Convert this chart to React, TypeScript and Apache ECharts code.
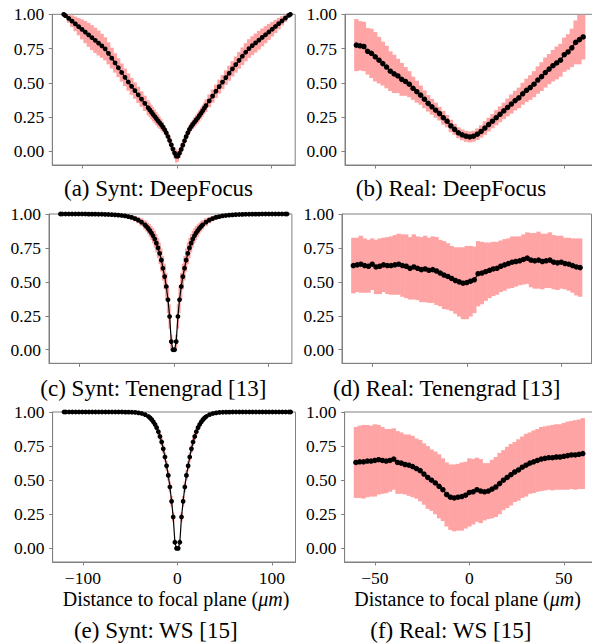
import React, { useEffect, useRef } from "react";
import * as echarts from "echarts";

// ---------- data ----------
const synthX = [
  -119.9, -118.1, -114.6, -111.1, -107.6, -104.1, -100.6, -97.1, -93.6, -90.1, -86.6, -83.1, -79.6, -76.1, -72.6,
  -69.1, -65.6, -62.1, -58.6, -55.1, -51.6, -48.1, -44.6, -41.1, -37.6, -34.1, -30.6, -28.9, -27.1, -25.4, -23.6,
  -21.9, -20.1, -18.4, -16.6, -14.9, -13.1, -11.4, -9.6, -7.9, -6.1, -4.4, -2.6, -0.9,
  0.9, 2.6, 4.4, 6.1, 7.9, 9.6, 11.4, 13.1, 14.9, 16.6, 18.4, 20.1, 21.9, 23.6, 25.4, 27.1, 28.9, 30.6, 34.1, 37.6,
  41.1, 44.6, 48.1, 51.6, 55.1, 58.6, 62.1, 65.6, 69.1, 72.6, 76.1, 79.6, 83.1, 86.6, 90.1, 93.6, 97.1, 100.6,
  104.1, 107.6, 111.1, 114.6, 118.1, 119.9,
];

const deepSyntMean = [
  1.0, 0.99, 0.97, 0.95, 0.93, 0.91, 0.89, 0.87, 0.85, 0.83, 0.81, 0.79, 0.77, 0.748, 0.715, 0.68, 0.645, 0.61,
  0.575, 0.54, 0.506, 0.474, 0.443, 0.412, 0.381, 0.35, 0.318, 0.302, 0.286, 0.27, 0.254, 0.238, 0.222, 0.208,
  0.193, 0.176, 0.157, 0.135, 0.108, 0.079, 0.047, 0.016, -0.013, -0.035,
  -0.036, -0.014, 0.014, 0.045, 0.077, 0.107, 0.135, 0.16, 0.18, 0.196, 0.212, 0.227, 0.243, 0.26, 0.278, 0.296,
  0.315, 0.333, 0.368, 0.403, 0.438, 0.472, 0.505, 0.538, 0.57, 0.602, 0.633, 0.664, 0.694, 0.723, 0.75, 0.771,
  0.791, 0.811, 0.831, 0.851, 0.871, 0.891, 0.911, 0.932, 0.952, 0.972, 0.992, 1.0,
];
const deepSyntStd = [
  0.011, 0.018, 0.031, 0.042, 0.053, 0.063, 0.073, 0.081, 0.087, 0.091, 0.092, 0.091, 0.088, 0.084, 0.08, 0.076,
  0.071, 0.069, 0.066, 0.064, 0.063, 0.062, 0.06, 0.059, 0.057, 0.056, 0.055, 0.053, 0.053, 0.052, 0.05, 0.049,
  0.048, 0.045, 0.042, 0.038, 0.034, 0.029, 0.028, 0.028, 0.031, 0.035, 0.042, 0.048,
  0.04, 0.036, 0.03, 0.027, 0.025, 0.025, 0.026, 0.029, 0.032, 0.035, 0.038, 0.039, 0.04, 0.042, 0.043, 0.044,
  0.044, 0.046, 0.047, 0.048, 0.049, 0.051, 0.052, 0.053, 0.055, 0.056, 0.059, 0.061, 0.064, 0.066, 0.068, 0.069,
  0.069, 0.068, 0.065, 0.062, 0.058, 0.053, 0.048, 0.042, 0.034, 0.026, 0.016, 0.01,
];

const tenSyntMean = [
  1, 1, 1, 1, 1, 1, 1, 1, 1, 0.999, 0.999, 0.999, 0.998, 0.998, 0.997, 0.996, 0.995, 0.994, 0.992, 0.989, 0.986,
  0.981, 0.975, 0.966, 0.955, 0.94, 0.92, 0.908, 0.894, 0.878, 0.86, 0.84, 0.815, 0.785, 0.75, 0.71, 0.66, 0.6,
  0.539, 0.466, 0.368, 0.245, 0.06, 0.0,
  0.0, 0.06, 0.245, 0.368, 0.466, 0.539, 0.6, 0.66, 0.71, 0.75, 0.785, 0.815, 0.84, 0.86, 0.878, 0.894, 0.908,
  0.92, 0.94, 0.955, 0.966, 0.975, 0.981, 0.986, 0.989, 0.992, 0.994, 0.995, 0.996, 0.997, 0.998, 0.998, 0.999,
  0.999, 0.999, 1, 1, 1, 1, 1, 1, 1, 1, 1,
];
const tenSyntStd = [
  0.002, 0.002, 0.002, 0.002, 0.002, 0.002, 0.002, 0.002, 0.002, 0.003, 0.003, 0.003, 0.004, 0.004, 0.005, 0.005,
  0.006, 0.007, 0.008, 0.009, 0.011, 0.013, 0.016, 0.019, 0.023, 0.028, 0.034, 0.038, 0.042, 0.046, 0.051, 0.056,
  0.062, 0.068, 0.074, 0.08, 0.085, 0.09, 0.095, 0.1, 0.1, 0.09, 0.05, 0.01,
  0.01, 0.05, 0.09, 0.1, 0.1, 0.095, 0.09, 0.085, 0.08, 0.074, 0.068, 0.062, 0.056, 0.051, 0.046, 0.042, 0.038,
  0.034, 0.028, 0.023, 0.019, 0.016, 0.013, 0.011, 0.009, 0.008, 0.007, 0.006, 0.005, 0.005, 0.004, 0.004, 0.003,
  0.003, 0.003, 0.002, 0.002, 0.002, 0.002, 0.002, 0.002, 0.002, 0.002, 0.002,
];

const wsSyntMean = [
  1, 1, 1, 1, 1, 1, 1, 1, 1, 1, 1, 1, 1, 1, 1, 1, 1, 1, 1, 0.999, 0.999, 0.998, 0.997, 0.994, 0.989, 0.981, 0.967,
  0.957, 0.944, 0.928, 0.908, 0.885, 0.855, 0.82, 0.78, 0.73, 0.67, 0.605, 0.535, 0.45, 0.345, 0.23, 0.045, 0.0,
  0.0, 0.045, 0.23, 0.345, 0.45, 0.535, 0.605, 0.67, 0.73, 0.78, 0.82, 0.855, 0.885, 0.908, 0.928, 0.944, 0.957,
  0.967, 0.981, 0.989, 0.994, 0.997, 0.998, 0.999, 0.999, 1, 1, 1, 1, 1, 1, 1, 1, 1, 1, 1, 1, 1, 1, 1, 1, 1, 1, 1,
];
const wsSyntStd = [
  0.002, 0.002, 0.002, 0.002, 0.002, 0.002, 0.002, 0.002, 0.002, 0.002, 0.002, 0.002, 0.002, 0.002, 0.002, 0.002,
  0.002, 0.002, 0.002, 0.002, 0.003, 0.003, 0.004, 0.005, 0.006, 0.008, 0.011, 0.012, 0.014, 0.016, 0.018, 0.021,
  0.024, 0.027, 0.03, 0.032, 0.034, 0.036, 0.038, 0.04, 0.04, 0.035, 0.02, 0.005,
  0.005, 0.02, 0.035, 0.04, 0.04, 0.038, 0.036, 0.034, 0.032, 0.03, 0.027, 0.024, 0.021, 0.018, 0.016, 0.014,
  0.012, 0.011, 0.008, 0.006, 0.005, 0.004, 0.003, 0.003, 0.002, 0.002, 0.002, 0.002, 0.002, 0.002, 0.002, 0.002,
  0.002, 0.002, 0.002, 0.002, 0.002, 0.002, 0.002, 0.002, 0.002, 0.002, 0.002, 0.002,
];

const realX = [
  -60, -58, -56, -54, -52, -50, -48, -46, -44, -42, -40, -38, -36, -34, -32, -30, -28, -26, -24, -22, -20, -18, -16,
  -14, -12, -10, -8, -6, -4, -2, 0, 2, 4, 6, 8, 10, 12, 14, 16, 18, 20, 22, 24, 26, 28, 30, 32, 34, 36, 38, 40, 42,
  44, 46, 48, 50, 52, 54, 56, 58, 60,
];

const deepRealMean = [
  0.775, 0.77, 0.765, 0.73, 0.715, 0.69, 0.665, 0.64, 0.615, 0.585, 0.565, 0.55, 0.525, 0.51, 0.49, 0.46, 0.435,
  0.41, 0.38, 0.35, 0.325, 0.3, 0.275, 0.245, 0.22, 0.185, 0.16, 0.135, 0.12, 0.11, 0.105, 0.11, 0.125, 0.145, 0.17,
  0.195, 0.22, 0.245, 0.27, 0.295, 0.32, 0.345, 0.37, 0.39, 0.42, 0.445, 0.465, 0.49, 0.52, 0.545, 0.575, 0.6,
  0.625, 0.645, 0.665, 0.705, 0.725, 0.755, 0.795, 0.815, 0.835,
];
const deepRealStd = [
  0.19, 0.18, 0.18, 0.17, 0.18, 0.18, 0.17, 0.16, 0.155, 0.145, 0.14, 0.125, 0.12, 0.105, 0.095, 0.085, 0.08, 0.07,
  0.065, 0.06, 0.058, 0.055, 0.05, 0.05, 0.045, 0.045, 0.04, 0.04, 0.04, 0.04, 0.04, 0.04, 0.042, 0.045, 0.05, 0.05,
  0.052, 0.055, 0.058, 0.06, 0.065, 0.07, 0.072, 0.075, 0.08, 0.085, 0.09, 0.095, 0.1, 0.105, 0.11, 0.11, 0.115,
  0.12, 0.12, 0.125, 0.13, 0.14, 0.16, 0.18, 0.165,
];

const tenRealMean = [
  0.62, 0.625, 0.63, 0.62, 0.615, 0.63, 0.61, 0.615, 0.625, 0.62, 0.62, 0.625, 0.63, 0.62, 0.615, 0.6, 0.61, 0.6,
  0.59, 0.595, 0.585, 0.59, 0.58, 0.565, 0.55, 0.54, 0.525, 0.51, 0.5, 0.49, 0.495, 0.505, 0.515, 0.56, 0.565,
  0.575, 0.585, 0.595, 0.6, 0.615, 0.625, 0.635, 0.645, 0.65, 0.655, 0.665, 0.675, 0.66, 0.655, 0.66, 0.65, 0.655,
  0.66, 0.645, 0.64, 0.645, 0.635, 0.63, 0.62, 0.61, 0.605,
];
const tenRealStd = [
  0.205, 0.2, 0.21, 0.2, 0.195, 0.19, 0.2, 0.205, 0.2, 0.21, 0.215, 0.22, 0.225, 0.23, 0.235, 0.23, 0.24, 0.235,
  0.24, 0.245, 0.24, 0.245, 0.25, 0.245, 0.25, 0.245, 0.24, 0.245, 0.255, 0.265, 0.27, 0.26, 0.245, 0.24, 0.23,
  0.215, 0.205, 0.2, 0.195, 0.19, 0.19, 0.185, 0.19, 0.185, 0.18, 0.185, 0.19, 0.2, 0.205, 0.21, 0.205, 0.2, 0.205,
  0.2, 0.2, 0.195, 0.19, 0.195, 0.2, 0.21, 0.215,
];

const wsRealMean = [
  0.63, 0.635, 0.635, 0.64, 0.64, 0.645, 0.65, 0.645, 0.64, 0.645, 0.655, 0.63, 0.625, 0.615, 0.61, 0.6, 0.585,
  0.57, 0.545, 0.52, 0.5, 0.48, 0.455, 0.43, 0.395, 0.375, 0.37, 0.375, 0.38, 0.39, 0.41, 0.415, 0.43, 0.42, 0.415,
  0.42, 0.435, 0.45, 0.475, 0.5, 0.52, 0.54, 0.56, 0.575, 0.595, 0.61, 0.625, 0.635, 0.645, 0.655, 0.66, 0.665,
  0.665, 0.67, 0.67, 0.675, 0.68, 0.685, 0.685, 0.69, 0.695,
];
const wsRealStd = [
  0.26, 0.265, 0.27, 0.265, 0.26, 0.265, 0.255, 0.245, 0.235, 0.23, 0.225, 0.23, 0.225, 0.22, 0.225, 0.225, 0.22,
  0.225, 0.225, 0.23, 0.225, 0.23, 0.235, 0.23, 0.235, 0.24, 0.245, 0.245, 0.25, 0.245, 0.25, 0.24, 0.235, 0.235,
  0.21, 0.205, 0.215, 0.22, 0.225, 0.22, 0.225, 0.225, 0.22, 0.225, 0.225, 0.23, 0.225, 0.23, 0.23, 0.235, 0.235,
  0.235, 0.24, 0.24, 0.24, 0.245, 0.25, 0.25, 0.255, 0.255, 0.26,
];

const yTicks = [0, 0.25, 0.5, 0.75, 1.0];
const xTicksSynt = [-100, 0, 100];
const xTicksReal = [-50, 0, 50];
const captions = [
  "(a) Synt: DeepFocus",
  "(b) Real: DeepFocus",
  "(c) Synt: Tenengrad [13]",
  "(d) Real: Tenengrad [13]",
  "(e) Synt: WS [15]",
  "(f) Real: WS [15]",
];
const xTitle = "Distance to focal plane ({it|\u03bcm})";

// ---------- layout / style ----------
const FONT = '"Liberation Serif", "Times New Roman", serif';
const BAND = "#ffa4a4";
const SPINE = "#808080";

const panels = [
  { x: synthX, mean: deepSyntMean, std: deepSyntStd, left: 52.3, top: 14.3, width: 242.9, height: 150.7, min: -132, max: 125, ticks: xTicksSynt, labels: false, sym: 4.8 },
  { x: realX, mean: deepRealMean, std: deepRealStd, left: 345, top: 14.3, width: 249.5, height: 150.7, min: -66, max: 66, ticks: xTicksReal, labels: false, sym: 5.5 },
  { x: synthX, mean: tenSyntMean, std: tenSyntStd, left: 49, top: 214, width: 242.9, height: 149.3, min: -132, max: 125, ticks: xTicksSynt, labels: false, sym: 4.8 },
  { x: realX, mean: tenRealMean, std: tenRealStd, left: 342, top: 214, width: 249.5, height: 149.3, min: -66, max: 66, ticks: xTicksReal, labels: false, sym: 5.5 },
  { x: synthX, mean: wsSyntMean, std: wsSyntStd, left: 52.6, top: 412, width: 242.9, height: 150, min: -132, max: 125, ticks: xTicksSynt, labels: true, sym: 4.8 },
  { x: realX, mean: wsRealMean, std: wsRealStd, left: 344.6, top: 412, width: 249.5, height: 150, min: -66, max: 66, ticks: xTicksReal, labels: true, sym: 5.5 },
];
const captionPos = [
  [158.5, 188.5], [451, 188.5],
  [153.3, 388], [446.7, 388],
  [155.8, 630.5], [450.8, 630.5],
];
const xTitlePos = [[176, 599], [467.5, 599]];

function fmtX(v: number) {
  return v < 0 ? "\u2212" + Math.abs(v) : String(v);
}

function bandRender(params: any, api: any) {
  const x = api.value(0);
  const lo = api.value(1);
  const hi = api.value(2);
  const w = api.value(3);
  const a = api.coord([x - w / 2, hi]);
  const b = api.coord([x + w / 2, lo]);
  const cs = params.coordSys;
  const shape = echarts.graphic.clipRectByRect(
    { x: a[0] - 0.3, y: a[1], width: b[0] - a[0] + 0.6, height: b[1] - a[1] },
    { x: cs.x, y: cs.y + 0.5, width: cs.width, height: cs.height - 1 }
  );
  if (!shape) return { type: "group", children: [] };
  return { type: "rect", shape, style: { fill: BAND } };
}

export default function App() {
  const ref = useRef<HTMLDivElement>(null);
  useEffect(() => {
    if (!ref.current) return;
    const chart = echarts.init(ref.current, null, { renderer: "svg" });

    const grid: any[] = [];
    const xAxis: any[] = [];
    const yAxis: any[] = [];
    const series: any[] = [];

    panels.forEach((p, i) => {
      grid.push({
        left: p.left, top: p.top, width: p.width, height: p.height,
        show: true, borderColor: SPINE, borderWidth: 1, backgroundColor: "transparent",
        containLabel: false, outerBoundsMode: "none",
      });
      xAxis.push({
        type: "value", gridIndex: i, min: p.min, max: p.max, position: "bottom",
        axisLine: { show: true, onZero: false, lineStyle: { color: SPINE, width: 1 } },
        axisTick: { show: true, inside: false, length: 3.5, customValues: p.ticks, lineStyle: { color: SPINE, width: 1 } },
        axisLabel: { show: p.labels, customValues: p.ticks, formatter: fmtX, fontSize: 17.5, fontFamily: FONT, color: "#000", margin: 7 },
        splitLine: { show: false },
      });
      yAxis.push({
        type: "value", gridIndex: i, min: -0.1, max: 1.0, position: "left",
        axisLine: { show: true, onZero: false, lineStyle: { color: SPINE, width: 1 } },
        axisTick: { show: true, inside: false, length: 3.5, customValues: yTicks, lineStyle: { color: SPINE, width: 1 } },
        axisLabel: { show: true, customValues: yTicks, formatter: (v: number) => v.toFixed(2), fontSize: 17.5, fontFamily: FONT, color: "#000", margin: 8 },
        splitLine: { show: false },
      });
      const n = p.x.length;
      const bandData = p.x.map((xv, j) => {
        const prev = j > 0 ? p.x[j - 1] : xv - (p.x[1] - p.x[0]);
        const next = j < n - 1 ? p.x[j + 1] : xv + (p.x[n - 1] - p.x[n - 2]);
        return [xv, p.mean[j] - p.std[j], p.mean[j] + p.std[j], (next - prev) / 2];
      });
      series.push({
        type: "custom", xAxisIndex: i, yAxisIndex: i, renderItem: bandRender,
        data: bandData, encode: { x: 0, y: [1, 2] }, z: 1, silent: true,
      });
      series.push({
        type: "line", xAxisIndex: i, yAxisIndex: i,
        data: p.x.map((xv, j) => [xv, p.mean[j]]),
        symbol: "circle", symbolSize: p.sym, showSymbol: true, showAllSymbol: true,
        lineStyle: { color: "#000", width: 1.2 }, itemStyle: { color: "#000" },
        z: 3, silent: true, clip: true,
      });
    });

    const elements: any[] = [];
    captions.forEach((c, i) => {
      elements.push({
        type: "text", x: captionPos[i][0], y: captionPos[i][1], silent: true,
        style: {
          text: c, fontSize: 23, fontFamily: FONT, fill: "#000",
          align: "center", verticalAlign: "middle", textAlign: "center", textVerticalAlign: "middle",
        },
      });
    });
    xTitlePos.forEach((pos) => {
      elements.push({
        type: "text", x: pos[0], y: pos[1], silent: true,
        style: {
          text: xTitle, fontSize: 20, fontFamily: FONT, fill: "#000",
          align: "center", verticalAlign: "middle", textAlign: "center", textVerticalAlign: "middle",
          rich: { it: { fontStyle: "italic", fontSize: 20, fontFamily: FONT, fill: "#000" } },
        },
      });
    });

    chart.setOption({
      animation: false,
      backgroundColor: "#fff",
      grid, xAxis, yAxis, series,
      graphic: { elements },
    });
    return () => chart.dispose();
  }, []);

  return (
    <div
      ref={ref}
      style={{ position: "absolute", left: 0, top: 0, width: 592, height: 643, background: "#fff" }}
    />
  );
}
